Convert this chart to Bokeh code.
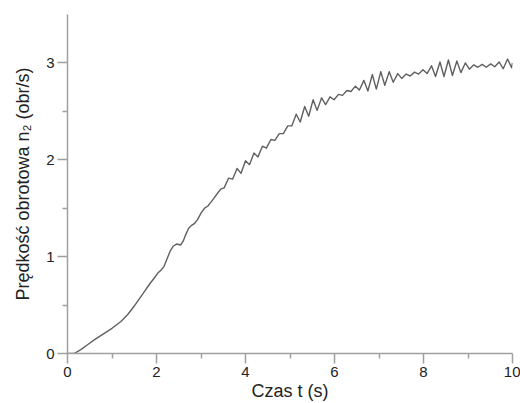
from bokeh.plotting import figure
from bokeh.models import Range1d, FixedTicker
from bokeh.embed import file_html
from bokeh.resources import INLINE

# Czas t (s)
time_s = [
    0.0, 0.15, 0.3, 0.45, 0.6, 0.8, 1.0, 1.2, 1.35, 1.5, 1.7, 1.85, 1.95, 2.03,
    2.1, 2.17, 2.24, 2.31, 2.38, 2.45, 2.54, 2.6, 2.65, 2.72, 2.78, 2.85, 2.92,
    3.0, 3.08, 3.15, 3.22, 3.3, 3.38, 3.45,
    3.52, 3.62, 3.71, 3.81, 3.90, 4.00, 4.09, 4.19, 4.28, 4.38, 4.47, 4.57,
    4.66, 4.76, 4.85, 4.95, 5.04, 5.14, 5.23, 5.33, 5.42, 5.52, 5.61, 5.71,
    5.80, 5.90, 5.99, 6.09, 6.18, 6.28, 6.37, 6.47, 6.56, 6.66, 6.75, 6.85,
    6.94, 7.04, 7.13, 7.23, 7.32, 7.42, 7.51, 7.61, 7.70, 7.80, 7.89, 7.99,
    8.08, 8.18, 8.27, 8.37, 8.46, 8.56, 8.65, 8.75, 8.84, 8.94, 9.03, 9.13,
    9.22, 9.32, 9.41, 9.51, 9.60, 9.70, 9.79, 9.89, 9.98, 10.0,
]
# Prędkość obrotowa n2 (obr/s)
speed_n2 = [
    0.0, 0.0, 0.04, 0.09, 0.14, 0.20, 0.26, 0.33, 0.40, 0.49, 0.62, 0.72, 0.78, 0.83,
    0.86, 0.90, 0.98, 1.06, 1.11, 1.13, 1.12, 1.16, 1.22, 1.29, 1.32, 1.34, 1.38,
    1.45, 1.50, 1.52, 1.56, 1.61, 1.66, 1.70,
    1.71, 1.81, 1.80, 1.91, 1.86, 1.99, 1.95, 2.07, 2.03, 2.14, 2.12, 2.21,
    2.20, 2.27, 2.27, 2.35, 2.35, 2.47, 2.39, 2.55, 2.45, 2.62, 2.51, 2.64,
    2.57, 2.65, 2.62, 2.675, 2.665, 2.715, 2.705, 2.76, 2.72, 2.82, 2.71, 2.88,
    2.73, 2.91, 2.77, 2.91, 2.80, 2.89, 2.84, 2.885, 2.865, 2.905, 2.885, 2.93,
    2.89, 2.97, 2.86, 3.01, 2.86, 3.03, 2.87, 3.02, 2.90, 3.00, 2.935, 2.98,
    2.955, 2.985, 2.955, 2.99, 2.96, 3.01, 2.94, 3.04, 2.95, 3.0,
]

x_ticks = [0, 2, 4, 6, 8, 10]
x_minor_ticks = [1, 3, 5, 7, 9]
y_ticks = [0, 1, 2, 3]
y_minor_ticks = [0.5, 1.5, 2.5]

x_title = "Czas t (s)"
y_title = "Prędkość obrotowa n₂ (obr/s)"

AXIS_COLOR = "#a0a0a0"
TEXT_COLOR = "#222222"
FONT = "Liberation Sans"

p = figure(width=520, height=403, output_backend="svg", toolbar_location=None,
           x_range=Range1d(0, 10), y_range=Range1d(0, 3.5),
           min_border_left=67, min_border_right=8, min_border_top=14,
           min_border_bottom=10)
p.outline_line_color = None
p.grid.visible = False
p.background_fill_color = "white"
p.border_fill_color = "white"

p.line(time_s, speed_n2, line_color="#606060", line_width=1.4, line_join="round")

for ax, ticks, minor in ((p.xaxis[0], x_ticks, x_minor_ticks),
                         (p.yaxis[0], y_ticks, y_minor_ticks)):
    ax.ticker = FixedTicker(ticks=ticks, minor_ticks=minor)
    ax.axis_line_color = AXIS_COLOR
    ax.axis_line_width = 1.5
    ax.major_tick_line_color = AXIS_COLOR
    ax.major_tick_line_width = 1.5
    ax.minor_tick_line_color = AXIS_COLOR
    ax.minor_tick_line_width = 1.5
    ax.major_tick_in = 0
    ax.major_tick_out = 10
    ax.minor_tick_in = 0
    ax.minor_tick_out = 5
    ax.major_label_text_font = FONT
    ax.major_label_text_font_size = "15px"
    ax.major_label_text_color = TEXT_COLOR
    ax.axis_label_text_font = FONT
    ax.axis_label_text_font_size = "18px"
    ax.axis_label_text_font_style = "normal"
    ax.axis_label_text_color = TEXT_COLOR

p.xaxis[0].axis_label = x_title
p.xaxis[0].major_label_standoff = 3
p.xaxis[0].axis_label_standoff = 1
p.yaxis[0].axis_label = y_title
p.yaxis[0].major_label_standoff = 3
p.yaxis[0].axis_label_standoff = 10

open("out.html", "w").write(file_html(p, INLINE))
